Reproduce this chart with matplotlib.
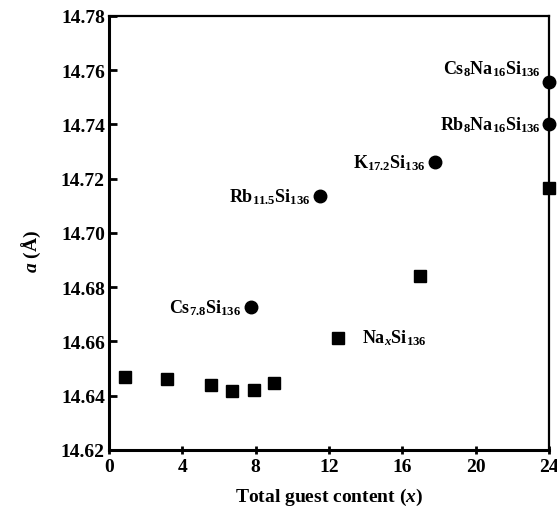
import matplotlib
matplotlib.use("Agg")
import matplotlib.pyplot as plt

plt.rcParams['font.family'] = ['Liberation Serif', 'DejaVu Serif']
plt.rcParams['font.weight'] = 'bold'
plt.rcParams['mathtext.fontset'] = 'custom'
plt.rcParams['mathtext.rm'] = 'Liberation Serif:bold'
plt.rcParams['mathtext.bf'] = 'Liberation Serif:bold'
plt.rcParams['mathtext.it'] = 'Liberation Serif:italic:bold'

# Na_x Si136 series (squares)
na_x = [0.87, 3.16, 5.56, 6.71, 7.91, 9.0, 12.51, 16.97, 24.0]
na_a = [14.6468, 14.6462, 14.6440, 14.6418, 14.6422, 14.6447, 14.6612, 14.6842, 14.7165]

# other clathrates (circles)
c_names = ['Cs$_{7.8}$Si$_{136}$', 'Rb$_{11.5}$Si$_{136}$', 'K$_{17.2}$Si$_{136}$',
           'Rb$_{8}$Na$_{16}$Si$_{136}$', 'Cs$_{8}$Na$_{16}$Si$_{136}$']
c_x = [7.73, 11.5, 17.8, 24.0, 24.0]
c_a = [14.6728, 14.7135, 14.7262, 14.7400, 14.7558]

fig = plt.figure(figsize=(5.57, 5.10), dpi=100)
ax = fig.add_axes([0.1957, 0.1157, 0.7899, 0.851])

ax.plot(na_x, na_a, 's', color='black', ms=8.5, clip_on=False, zorder=3)
ax.plot(c_x, c_a, 'o', color='black', ms=9, clip_on=False, zorder=3)

fs = 13
offsets = [(-7, 0), (-7, 0), (-7, 0), (-6, 0), (-6, 10)]
for name, x, y, off in zip(c_names, c_x, c_a, offsets):
    ax.annotate(name, (x, y), xytext=off, textcoords='offset points',
                ha='right', va='center', fontsize=fs, fontweight='bold')
ax.annotate('Na$_{x}$Si$_{136}$', (na_x[6], na_a[6]), xytext=(17, 1),
            textcoords='offset points', ha='left', va='center',
            fontsize=fs, fontweight='bold')

ax.set_xlim(0, 24)
ax.set_ylim(14.62, 14.78)
ax.set_xticks([0, 4, 8, 12, 16, 20, 24])
ax.set_yticks([14.62, 14.64, 14.66, 14.68, 14.70, 14.72, 14.74, 14.76, 14.78])
ax.set_yticklabels(['14.62', '14.64', '14.66', '14.68', '14.70', '14.72', '14.74', '14.76', '14.78'])

ax.tick_params(axis='y', direction='in', length=6, width=2, labelsize=14, pad=3)
ax.tick_params(axis='x', direction='inout', length=6, width=2, labelsize=14, pad=3)
for lbl in ax.get_xticklabels() + ax.get_yticklabels():
    lbl.set_fontweight('bold')

for side in ['left', 'bottom']:
    ax.spines[side].set_linewidth(2.2)
for side in ['top', 'right']:
    ax.spines[side].set_linewidth(1.6)

ax.set_xlabel('Total guest content ($x$)', fontsize=14, fontweight='bold')
ax.xaxis.set_label_coords(0.5, -0.083)
ax.set_ylabel('$a$ (Å)', fontsize=14, fontweight='bold')
ax.yaxis.set_label_coords(-0.15, 0.46)

fig.savefig('out.png', dpi=100)
